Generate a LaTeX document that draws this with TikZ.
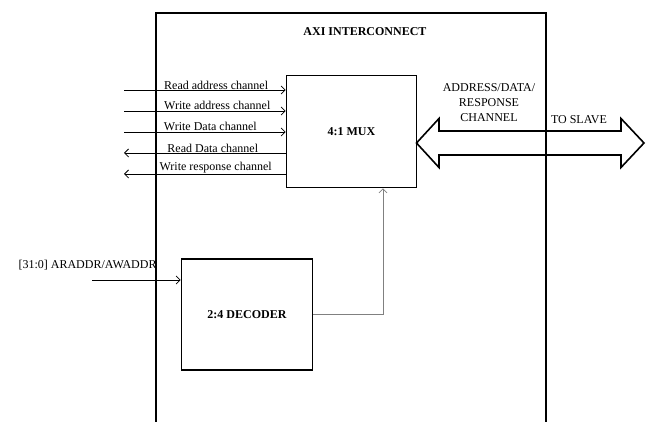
\documentclass[tikz,border=0pt]{standalone}
\usepackage{fontspec}
\setmainfont{Liberation Serif}
\usetikzlibrary{arrows.meta}

\tikzset{
  blk/.style={draw,line width=1.6pt,minimum width=130pt,minimum height=112pt,inner sep=0pt,
    font=\fontsize{12}{15}\selectfont\bfseries},
  chan/.style={line width=.75pt},
  lbl/.style={above,inner sep=.5pt},
}

\begin{document}
\begin{tikzpicture}[x=1pt,y=-1pt,font=\fontsize{12}{15}\selectfont,>={Straight Barb[length=4pt,width=8pt]}]
  \useasboundingbox (0,0) rectangle (649,422);
  % interconnect frame, open at the bottom
  \draw[line width=1.6pt] (156,422) -- (156,13) -- (546,13) -- (546,422);
  \node[font=\fontsize{12}{15}\selectfont\bfseries] (title) at (365,32) {AXI INTERCONNECT};

  \node[blk] (mux) at (351.5,131.5) {4:1 MUX};
  \node[blk,minimum width=131pt,minimum height=111pt] (dec) at (247,314.5) {2:4 DECODER};

  % master side channels
  \coordinate (ra) at (124,90);
  \coordinate (wa) at (124,111);
  \coordinate (wd) at (124,132);
  \coordinate (rd) at (124,153);
  \coordinate (wr) at (124,174);
  \draw[chan,->] (ra) -- (ra -| mux.west) node[lbl,pos=.57] {Read address channel};
  \draw[chan,->] (wa) -- (wa -| mux.west) node[lbl,pos=.577] {Write address channel};
  \draw[chan,->] (wd) -- (wd -| mux.west) node[lbl,pos=.534] {Write Data channel};
  \draw[chan,<-] (rd) -- (rd -| mux.west) node[lbl,pos=.549] {Read Data channel};
  \draw[chan,<-] (wr) -- (wr -| mux.west) node[lbl,pos=.567] {Write response channel};

  % address in, select out
  \coordinate (addr) at (92,280);
  \node[anchor=west] (addrlbl) at (15,265) {[31:0] ARADDR/AWADDR};
  \draw[chan,->] (addr) -- (addr -| dec.west);
  \draw[chan,gray,->] (dec.east) -| ([xshift=31.5pt]mux.south);

  % slave side bus
  \draw[line width=1.6pt,line join=miter] (416.5,143) -- (439,118.5) -- (439,131) -- (621,131) -- (621,118.5)
    -- (644,143) -- (621,167.5) -- (621,155) -- (439,155) -- (439,167.5) -- cycle;
  \node[align=center] (buslbl) at (489,103) {ADDRESS/DATA/\\RESPONSE\\CHANNEL};
  \node (slave) at (579,120) {TO SLAVE};
\end{tikzpicture}
\end{document}
